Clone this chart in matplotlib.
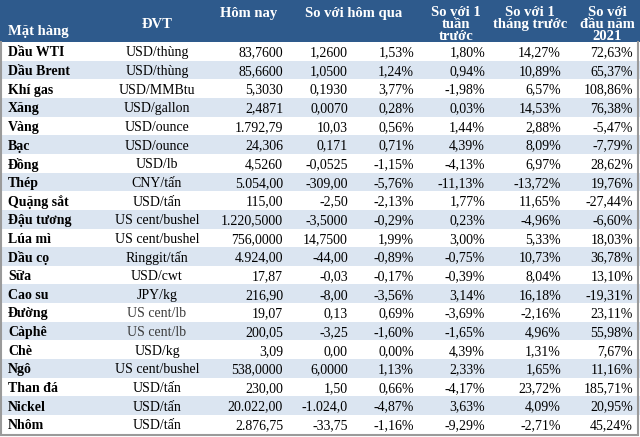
import matplotlib.pyplot as plt
from matplotlib.patches import Rectangle

# -------------------------------
# Bảng giá hàng hóa thế giới
# -------------------------------

items = ["Dầu WTI", "Dầu Brent", "Khí gas", "Xăng", "Vàng", "Bạc", "Đồng", "Thép",
         "Quặng sắt", "Đậu tương", "Lúa mì", "Dầu cọ", "Sữa", "Cao su", "Đường",
         "Càphê", "Chè", "Ngô", "Than đá", "Nickel", "Nhôm"]
units = ["USD/thùng", "USD/thùng", "USD/MMBtu", "USD/gallon", "USD/ounce", "USD/ounce",
         "USD/lb", "CNY/tấn", "USD/tấn", "US cent/bushel", "US cent/bushel", "Ringgit/tấn",
         "USD/cwt", "JPY/kg", "US cent/lb", "US cent/lb", "USD/kg", "US cent/bushel",
         "USD/tấn", "USD/tấn", "USD/tấn"]
today = ["83,7600", "85,6600", "5,3030", "2,4871", "1.792,79", "24,306", "4,5260",
         "5.054,00", "115,00", "1.220,5000", "756,0000", "4.924,00", "17,87", "216,90",
         "19,07", "200,05", "3,09", "538,0000", "230,00", "20.022,00", "2.876,75"]
diff_day = ["1,2600", "1,0500", "0,1930", "0,0070", "10,03", "0,171", "-0,0525",
            "-309,00", "-2,50", "-3,5000", "14,7500", "-44,00", "-0,03", "-8,00",
            "0,13", "-3,25", "0,00", "6,0000", "1,50", "-1.024,0", "-33,75"]
pct_day = ["1,53%", "1,24%", "3,77%", "0,28%", "0,56%", "0,71%", "-1,15%", "-5,76%",
           "-2,13%", "-0,29%", "1,99%", "-0,89%", "-0,17%", "-3,56%", "0,69%", "-1,60%",
           "0,00%", "1,13%", "0,66%", "-4,87%", "-1,16%"]
pct_week = ["1,80%", "0,94%", "-1,98%", "0,03%", "1,44%", "4,39%", "-4,13%", "-11,13%",
            "1,77%", "0,23%", "3,00%", "-0,75%", "-0,39%", "3,14%", "-3,69%", "-1,65%",
            "4,39%", "2,33%", "-4,17%", "3,63%", "-9,29%"]
pct_month = ["14,27%", "10,89%", "6,57%", "14,53%", "2,88%", "8,09%", "6,97%", "-13,72%",
             "11,65%", "-4,96%", "5,33%", "10,73%", "8,04%", "16,18%", "-2,16%", "4,96%",
             "1,31%", "1,65%", "23,72%", "4,09%", "-2,71%"]
pct_ytd = ["72,63%", "65,37%", "108,86%", "76,38%", "-5,47%", "-7,79%", "28,62%", "19,76%",
           "-27,44%", "-6,60%", "18,03%", "36,78%", "13,10%", "-19,31%", "23,11%", "55,98%",
           "7,67%", "11,16%", "185,71%", "20,95%", "45,24%"]

header_color = "#2E5A8C"
stripe_color = "#DBE5F1"
font = "Liberation Serif"

W, H = 640, 437
head_h = 42
row_h = 18.65

fig = plt.figure(figsize=(6.4, 4.37), dpi=100)
ax = fig.add_axes([0, 0, 1, 1])
ax.set_xlim(0, W)
ax.set_ylim(H, 0)
ax.axis("off")

# header
ax.add_patch(Rectangle((0, 0), W, head_h, color=header_color, lw=0))
hkw = dict(color="white", fontweight="bold", fontsize=10.5, family=font,
           va="center")
line_y = [13, 24.5, 36]
headers = [
    (8, "left", ["", "", "Mặt hàng"]),
    (157, "center", ["", "ĐVT", ""]),
    (249, "center", ["Hôm nay", "", ""]),
    (354, "center", ["So với hôm qua", "", ""]),
    (456, "center", ["So với 1", "tuần", "trước"]),
    (530, "center", ["So với 1", "tháng trước", ""]),
    (607, "center", ["So với", "đầu năm", "2021"]),
]
for x, ha, lines in headers:
    for ly, txt in zip(line_y, lines):
        if txt:
            y = ly - 4 if txt == "Mặt hàng" else ly
            ax.text(x, y, txt, ha=ha, **hkw)

# rows
cols = [(today, 283), (diff_day, 348), (pct_day, 414), (pct_week, 485),
        (pct_month, 561), (pct_ytd, 633)]
for i, name in enumerate(items):
    y0 = head_h + i * row_h
    if i % 2 == 1:
        ax.add_patch(Rectangle((0, y0), W, row_h, color=stripe_color, lw=0))
    yc = y0 + row_h / 2 + 1.5
    ax.text(8, yc, name, ha="left", va="center", fontsize=10, fontweight="bold",
            family=font, color="black")
    unit_color = "#3C3C3C" if units[i] == "US cent/lb" else "black"
    ax.text(157, yc, units[i], ha="center", va="center", fontsize=10, family=font,
            color=unit_color)
    for vals, xr in cols:
        ax.text(xr, yc, vals[i], ha="right", va="center", fontsize=10, family=font,
                color="black")

# outer frame
bottom = head_h + len(items) * row_h
ax.plot([1, 1, W - 2, W - 2], [head_h, bottom + 1, bottom + 1, head_h],
        color="#9A9A9A", lw=1.5, solid_joinstyle="miter")

fig.savefig("out.png", dpi=100)
